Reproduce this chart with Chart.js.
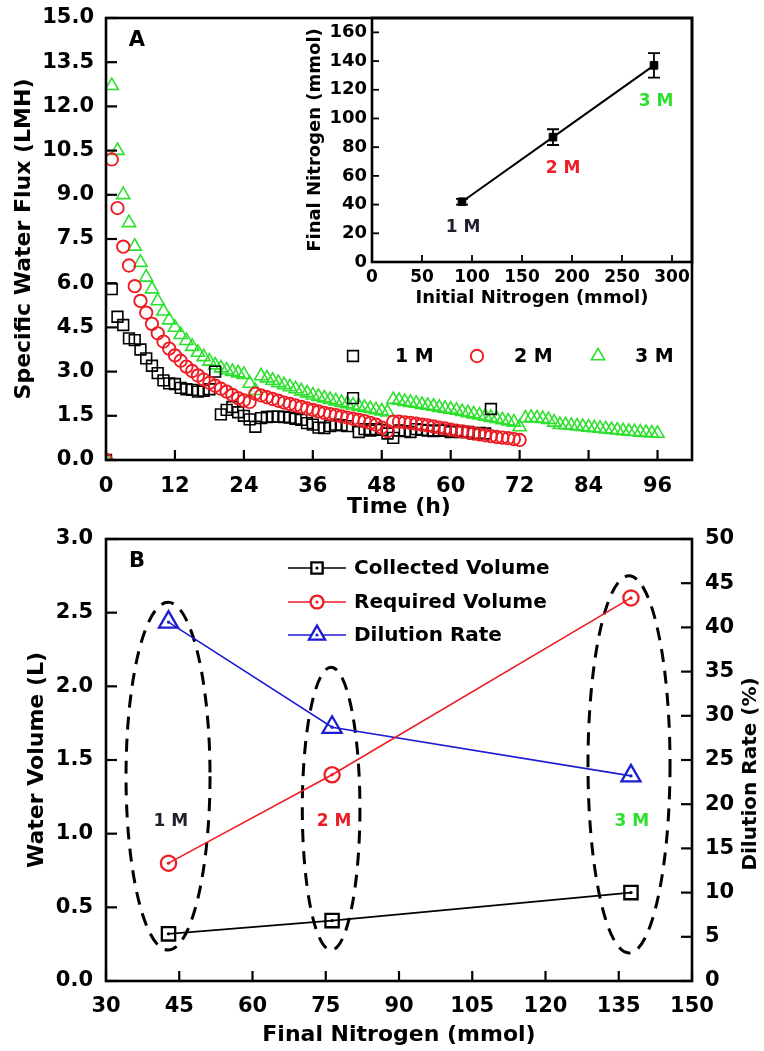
<!DOCTYPE html>
<html>
<head>
<meta charset="utf-8">
<script src="https://cdn.jsdelivr.net/npm/chart.js@4.4.1/dist/chart.umd.min.js"></script>
<style>
  body { margin: 0; background: #fff; }
  #wrap { position: relative; width: 764px; height: 1051px; }
  canvas { position: absolute; }
  #fluxChart { left: 0; top: 0; }
  #insetChart { left: 290px; top: 0; }
  #volumeChart { left: 0; top: 520px; }
</style>
</head>
<body>
<div id="wrap">
  <canvas id="fluxChart" width="764" height="520"></canvas>
  <canvas id="insetChart" width="420" height="320"></canvas>
  <canvas id="volumeChart" width="764" height="531"></canvas>
</div>
<script>
// ---- panel A: specific water flux, one reading per hour ----
const hours = [0,1,2,3,4,5,6,7,8,9,10,11,12,13,14,15,16,17,18,19,20,21,22,23,24,25,26,27,28,29,30,31,32,33,34,35,36,37,38,39,40,41,42,43,44,45,46,47,48,49,50,51,52,53,54,55,56,57,58,59,60,61,62,63,64,65,66,67,68,69,70,71,72,73,74,75,76,77,78,79,80,81,82,83,84,85,86,87,88,89,90,91,92,93,94,95,96];

const flux1M = [0,5.8,4.86,4.58,4.13,4.07,3.75,3.45,3.2,2.95,
  2.7,2.6,2.58,2.45,2.4,2.38,2.32,2.35,2.4,3.0,
  1.55,1.7,1.8,1.62,1.5,1.38,1.13,1.42,1.46,1.47,
  1.47,1.46,1.44,1.4,1.36,1.25,1.2,1.1,1.08,1.15,
  1.2,1.18,1.15,2.1,0.95,1.05,1.0,1.05,1.02,0.9,
  0.75,1.0,0.98,0.95,1.05,1.02,1.0,0.98,1.0,1.0,
  0.95,0.98,0.95,0.95,0.9,0.92,0.9,1.73];

const flux2M = [0,10.2,8.55,7.24,6.6,5.9,5.4,5.0,4.62,4.3,
  4.02,3.78,3.55,3.37,3.17,3.02,2.87,2.73,2.62,2.52,
  2.42,2.32,2.21,2.1,2.02,1.97,2.25,2.19,2.13,2.07,
  2.01,1.95,1.9,1.85,1.8,1.75,1.7,1.65,1.6,1.56,
  1.52,1.48,1.44,1.4,1.36,1.32,1.26,1.2,1.1,0.98,
  1.3,1.3,1.28,1.26,1.23,1.2,1.17,1.14,1.1,1.07,
  1.03,1.0,0.97,0.94,0.9,0.87,0.84,0.81,0.78,0.76,
  0.74,0.71,0.68];

const flux3M = [0,12.7,10.5,9.0,8.05,7.25,6.7,6.2,5.8,5.4,
  5.05,4.75,4.5,4.25,4.05,3.85,3.65,3.5,3.35,3.22,
  3.12,3.05,3.0,2.95,2.9,2.6,2.35,2.85,2.78,2.7,
  2.62,2.55,2.48,2.41,2.34,2.27,2.2,2.15,2.1,2.05,
  2.0,1.95,1.9,1.86,1.82,1.78,1.74,1.7,1.66,1.62,
  2.05,2.02,1.98,1.95,1.92,1.88,1.85,1.82,1.78,1.75,
  1.72,1.68,1.64,1.6,1.56,1.52,1.48,1.44,1.4,1.36,
  1.32,1.28,1.12,1.42,1.44,1.42,1.4,1.37,1.28,1.2,
  1.19,1.17,1.15,1.13,1.11,1.09,1.07,1.05,1.03,1.01,
  0.99,0.97,0.96,0.94,0.93,0.91,0.9];

const timeTicks = [0,12,24,36,48,60,72,84,96];
const fluxTicks = [0,1.5,3,4.5,6,7.5,9,10.5,12,13.5,15];

// ---- inset: final vs initial nitrogen ----
const concLabels = ['1 M','2 M','3 M'];
const initialN = [90,181,282];
const finalN = [42,87,137];
const finalNErr = [2,5.5,8.5];
const initialTicks = [0,50,100,150,200,250,300];
const finalTicks = [0,20,40,60,80,100,120,140,160];

// ---- panel B: water volumes and dilution ----
const finalNitrogen = [42.8,76.3,137.5];
const collectedVolume = [0.32,0.41,0.60];
const requiredVolume = [0.80,1.40,2.60];
const dilutionRate = [40.6,28.7,23.2];
const nitrogenTicks = [30,45,60,75,90,105,120,135,150];
const volumeTicks = [0,0.5,1,1.5,2,2.5,3];
const dilutionTicks = [0,5,10,15,20,25,30,35,40,45,50];

const BLACK = '#000', RED = '#ee1c24', GREEN = '#2ee02e', BLUE = '#1c1cd2';
const concColors = ['#1e1e2c', RED, GREEN];

Chart.defaults.font.family = 'DejaVu Sans';
Chart.defaults.font.weight = 'bold';
Chart.defaults.font.size = 21;
Chart.defaults.color = '#000';

const { drawPoint } = Chart.helpers;

function fixedTicks(values) {
  return s => { s.ticks = values.map(v => ({ value: v })); };
}

// fixed axis thickness; labels may hang over the edges without moving the plot area
function fixedSize(size) {
  return s => {
    if (s.isHorizontal()) s.height = size; else s.width = size;
    s.paddingTop = s.paddingBottom = s.paddingLeft = s.paddingRight = 0;
  };
}

// box around the plot area with ticks pointing inwards
function frameTicks(axes, tickWidth) {
  return {
    id: 'frameTicks',
    afterDatasetsDraw(chart) {
      const { ctx, chartArea: a } = chart;
      ctx.save();
      ctx.strokeStyle = '#000';
      ctx.lineWidth = tickWidth;
      axes.forEach(({ id, len }) => {
        const s = chart.scales[id];
        s.ticks.forEach(t => {
          const p = s.getPixelForValue(t.value);
          ctx.beginPath();
          if (s.isHorizontal()) { ctx.moveTo(p, a.bottom); ctx.lineTo(p, a.bottom - len); }
          else if (s.position === 'left') { ctx.moveTo(a.left, p); ctx.lineTo(a.left + len, p); }
          else { ctx.moveTo(a.right, p); ctx.lineTo(a.right - len, p); }
          ctx.stroke();
        });
      });
      ctx.lineWidth = 2.6;
      ctx.strokeRect(a.left, a.top, a.width, a.height);
      ctx.restore();
    }
  };
}

function panelLetter(text) {
  return {
    id: 'panelLetter',
    afterDraw(chart) {
      const { ctx, chartArea: a } = chart;
      ctx.save();
      ctx.font = 'bold 21px "DejaVu Sans"';
      ctx.fillStyle = '#000';
      ctx.textAlign = 'center';
      ctx.textBaseline = 'middle';
      ctx.fillText(text, a.left + 31, a.top + 23);
      ctx.restore();
    }
  };
}

function markerOpts(ds, r) {
  return { pointStyle: ds.pointStyle, radius: r || ds.pointRadius, rotation: 0, borderWidth: ds.pointBorderWidth };
}

// ---------- panel A ----------
const fluxLegend = {
  id: 'fluxLegend',
  afterDraw(chart) {
    const ctx = chart.ctx;
    const markX = [353, 477, 598], textX = [395, 514, 635], y = 356;
    ctx.save();
    chart.data.datasets.forEach((ds, i) => {
      ctx.strokeStyle = ds.borderColor;
      ctx.fillStyle = 'rgba(0,0,0,0)';
      ctx.lineWidth = ds.pointBorderWidth;
      drawPoint(ctx, markerOpts(ds), markX[i], y);
      ctx.fillStyle = '#000';
      ctx.font = 'bold 19px "DejaVu Sans"';
      ctx.textBaseline = 'middle';
      ctx.fillText(ds.label, textX[i], y + 1);
    });
    ctx.restore();
  }
};

function fluxSeries(label, values, color, style, r, bw, order) {
  return {
    label, order,
    data: values.map((v, i) => ({ x: hours[i], y: v })),
    showLine: false,
    borderColor: color,
    backgroundColor: 'rgba(0,0,0,0)',
    pointStyle: style,
    pointRadius: r,
    pointBorderWidth: bw,
    clip: 0
  };
}

new Chart(document.getElementById('fluxChart'), {
  type: 'line',
  data: {
    datasets: [
      fluxSeries('1 M', flux1M, BLACK, 'rect', 7.6, 1.6, 2),
      fluxSeries('2 M', flux2M, RED, 'circle', 6.2, 1.9, 1),
      fluxSeries('3 M', flux3M, GREEN, 'triangle', 7.6, 1.6, 3)
    ]
  },
  options: {
    responsive: false,
    animation: false,
    events: [],
    layout: { padding: { top: 18, right: 72, left: 0, bottom: 0 } },
    scales: {
      x: {
        type: 'linear', min: 0, max: 102,
        afterBuildTicks: fixedTicks(timeTicks),
        afterFit: fixedSize(60),
        grid: { display: false, drawTicks: false },
        border: { display: false },
        ticks: { padding: 14, maxRotation: 0, autoSkip: false },
        title: { display: true, text: 'Time (h)', font: { size: 22 }, padding: { top: 0, bottom: 0 } }
      },
      y: {
        type: 'linear', min: 0, max: 15,
        afterBuildTicks: fixedTicks(fluxTicks),
        afterFit: fixedSize(106),
        grid: { display: false, drawTicks: false },
        border: { display: false },
        ticks: { padding: 12, autoSkip: false, callback: v => v.toFixed(1) },
        title: { display: true, text: 'Specific Water Flux (LMH)', font: { size: 22 }, padding: { top: 11, bottom: 0 } }
      }
    },
    plugins: { legend: { display: false }, tooltip: { enabled: false } }
  },
  plugins: [frameTicks([{ id: 'x', len: 10 }, { id: 'y', len: 11 }], 2.2), fluxLegend, panelLetter('A')]
});

// ---------- inset ----------
const insetNotes = {
  id: 'insetNotes',
  afterDatasetsDraw(chart) {
    const { ctx, scales: { x, y } } = chart;
    // label placement relative to each point, in data units
    const offsets = [[1, -18], [10, -22], [2, -25]];
    ctx.save();
    ctx.strokeStyle = '#000';
    ctx.lineWidth = 1.8;
    initialN.forEach((n, i) => {
      const px = x.getPixelForValue(n);
      const lo = y.getPixelForValue(finalN[i] - finalNErr[i]);
      const hi = y.getPixelForValue(finalN[i] + finalNErr[i]);
      ctx.beginPath();
      ctx.moveTo(px, lo); ctx.lineTo(px, hi);
      ctx.moveTo(px - 6, lo); ctx.lineTo(px + 6, lo);
      ctx.moveTo(px - 6, hi); ctx.lineTo(px + 6, hi);
      ctx.stroke();
    });
    ctx.font = 'bold 17px "DejaVu Sans"';
    ctx.textAlign = 'center';
    ctx.textBaseline = 'middle';
    concLabels.forEach((t, i) => {
      ctx.fillStyle = concColors[i];
      ctx.fillText(t, x.getPixelForValue(initialN[i] + offsets[i][0]),
        y.getPixelForValue(finalN[i] + offsets[i][1]));
    });
    ctx.restore();
  }
};

new Chart(document.getElementById('insetChart'), {
  type: 'line',
  data: {
    datasets: [{
      data: initialN.map((v, i) => ({ x: v, y: finalN[i] })),
      borderColor: BLACK,
      backgroundColor: BLACK,
      borderWidth: 2,
      pointStyle: 'rect',
      pointRadius: 5.4,
      pointBorderWidth: 1
    }]
  },
  options: {
    responsive: false,
    animation: false,
    events: [],
    layout: { padding: { top: 18, right: 18, left: 0, bottom: 0 } },
    scales: {
      x: {
        type: 'linear', min: 0, max: 320,
        afterBuildTicks: fixedTicks(initialTicks),
        afterFit: fixedSize(58),
        grid: { display: false, drawTicks: false },
        border: { display: false },
        ticks: { padding: 5, font: { size: 17 }, maxRotation: 0, autoSkip: false },
        title: { display: true, text: 'Initial Nitrogen (mmol)', font: { size: 18 }, padding: { top: 0, bottom: 11 } }
      },
      y: {
        type: 'linear', min: 0, max: 170,
        afterBuildTicks: fixedTicks(finalTicks),
        afterFit: fixedSize(82),
        grid: { display: false, drawTicks: false },
        border: { display: false },
        ticks: { padding: 5, font: { size: 18 }, autoSkip: false },
        title: { display: true, text: 'Final Nitrogen (mmol)', font: { size: 18 }, padding: { top: 15, bottom: 0 } }
      }
    },
    plugins: { legend: { display: false }, tooltip: { enabled: false } }
  },
  plugins: [frameTicks([{ id: 'x', len: 7 }, { id: 'y', len: 7 }], 1.8), insetNotes]
});

// ---------- panel B ----------
// dashed outlines grouping each concentration: centre and half-axes in data units
const groupOutlines = [
  { x: 42.7, y: 1.39, rx: 8.6, ry: 1.18 },
  { x: 76.1, y: 1.17, rx: 5.9, ry: 0.96 },
  { x: 137.1, y: 1.47, rx: 8.4, ry: 1.28 }
];

const volumeNotes = {
  id: 'volumeNotes',
  beforeDatasetsDraw(chart) {
    const { ctx, scales: { x, y } } = chart;
    ctx.save();
    ctx.strokeStyle = '#000';
    ctx.lineWidth = 3;
    ctx.setLineDash([13, 9]);
    groupOutlines.forEach(g => {
      const cx = x.getPixelForValue(g.x), cy = y.getPixelForValue(g.y);
      const rx = x.getPixelForValue(g.x + g.rx) - cx;
      const ry = cy - y.getPixelForValue(g.y + g.ry);
      ctx.beginPath();
      ctx.ellipse(cx, cy, rx, ry, 0, 0, Math.PI * 2);
      ctx.stroke();
    });
    ctx.setLineDash([]);
    ctx.font = 'bold 17px "DejaVu Sans"';
    ctx.textAlign = 'center';
    ctx.textBaseline = 'middle';
    concLabels.forEach((t, i) => {
      ctx.fillStyle = concColors[i];
      ctx.fillText(t, x.getPixelForValue(groupOutlines[i].x + 0.6), y.getPixelForValue(1.08));
    });
    ctx.restore();
  },
  afterDatasetsDraw(chart) {
    // small dot in the middle of every marker
    const ctx = chart.ctx;
    ctx.save();
    chart.data.datasets.forEach((ds, i) => {
      ctx.fillStyle = ds.borderColor;
      chart.getDatasetMeta(i).data.forEach(pt => {
        ctx.beginPath();
        ctx.arc(pt.x, pt.y, 1.7, 0, Math.PI * 2);
        ctx.fill();
      });
    });
    ctx.restore();
  },
  afterDraw(chart) {
    const { ctx, chartArea: a } = chart;
    const rows = [48, 82, 115];
    ctx.save();
    chart.data.datasets.forEach((ds, i) => {
      const y = rows[i];
      ctx.strokeStyle = ds.borderColor;
      ctx.lineWidth = ds.borderWidth;
      ctx.beginPath();
      ctx.moveTo(288, y); ctx.lineTo(346, y);
      ctx.stroke();
      ctx.fillStyle = '#fff';
      ctx.lineWidth = ds.pointBorderWidth;
      drawPoint(ctx, markerOpts(ds, ds.pointRadius * 0.85), 317, y);
      ctx.fillStyle = ds.borderColor;
      ctx.beginPath();
      ctx.arc(317, y, 1.6, 0, Math.PI * 2);
      ctx.fill();
      ctx.fillStyle = '#000';
      ctx.font = 'bold 20px "DejaVu Sans"';
      ctx.textBaseline = 'middle';
      ctx.fillText(ds.label, 354, y + 1);
    });
    // right axis title reads bottom to top
    ctx.translate(751, (a.top + a.bottom) / 2 + 14);
    ctx.rotate(-Math.PI / 2);
    ctx.textAlign = 'center';
    ctx.fillText('Dilution Rate (%)', 0, 0);
    ctx.restore();
  }
};

function volumeSeries(label, values, axis, color, style, r) {
  return {
    label,
    yAxisID: axis,
    data: values.map((v, i) => ({ x: finalNitrogen[i], y: v })),
    borderColor: color,
    backgroundColor: 'rgba(255,255,255,0)',
    borderWidth: 1.6,
    pointStyle: style,
    pointRadius: r,
    pointBorderWidth: 2.3
  };
}

new Chart(document.getElementById('volumeChart'), {
  type: 'line',
  data: {
    datasets: [
      volumeSeries('Collected Volume', collectedVolume, 'y', BLACK, 'rect', 9.4),
      volumeSeries('Required Volume', requiredVolume, 'y', RED, 'circle', 7.6),
      volumeSeries('Dilution Rate', dilutionRate, 'y1', BLUE, 'triangle', 11)
    ]
  },
  options: {
    responsive: false,
    animation: false,
    events: [],
    layout: { padding: { top: 19, right: 0, left: 0, bottom: 0 } },
    scales: {
      x: {
        type: 'linear', min: 30, max: 150,
        afterBuildTicks: fixedTicks(nitrogenTicks),
        afterFit: fixedSize(70),
        grid: { display: false, drawTicks: false },
        border: { display: false },
        ticks: { padding: 13, maxRotation: 0, autoSkip: false },
        title: { display: true, text: 'Final Nitrogen (mmol)', font: { size: 22 }, padding: { top: 0, bottom: 3 } }
      },
      y: {
        type: 'linear', position: 'left', min: 0, max: 3,
        afterBuildTicks: fixedTicks(volumeTicks),
        afterFit: fixedSize(106),
        grid: { display: false, drawTicks: false },
        border: { display: false },
        ticks: { padding: 13, autoSkip: false, callback: v => v.toFixed(1) },
        title: { display: true, text: 'Water Volume (L)', font: { size: 22 }, padding: { top: 24, bottom: 0 } }
      },
      y1: {
        type: 'linear', position: 'right', min: 0, max: 50,
        afterBuildTicks: fixedTicks(dilutionTicks),
        afterFit: fixedSize(72),
        grid: { display: false, drawTicks: false },
        border: { display: false },
        ticks: { padding: 13, autoSkip: false }
      }
    },
    plugins: { legend: { display: false }, tooltip: { enabled: false } }
  },
  plugins: [frameTicks([{ id: 'x', len: 10 }, { id: 'y', len: 11 }, { id: 'y1', len: 11 }], 2.2), volumeNotes, panelLetter('B')]
});
</script>
</body>
</html>
